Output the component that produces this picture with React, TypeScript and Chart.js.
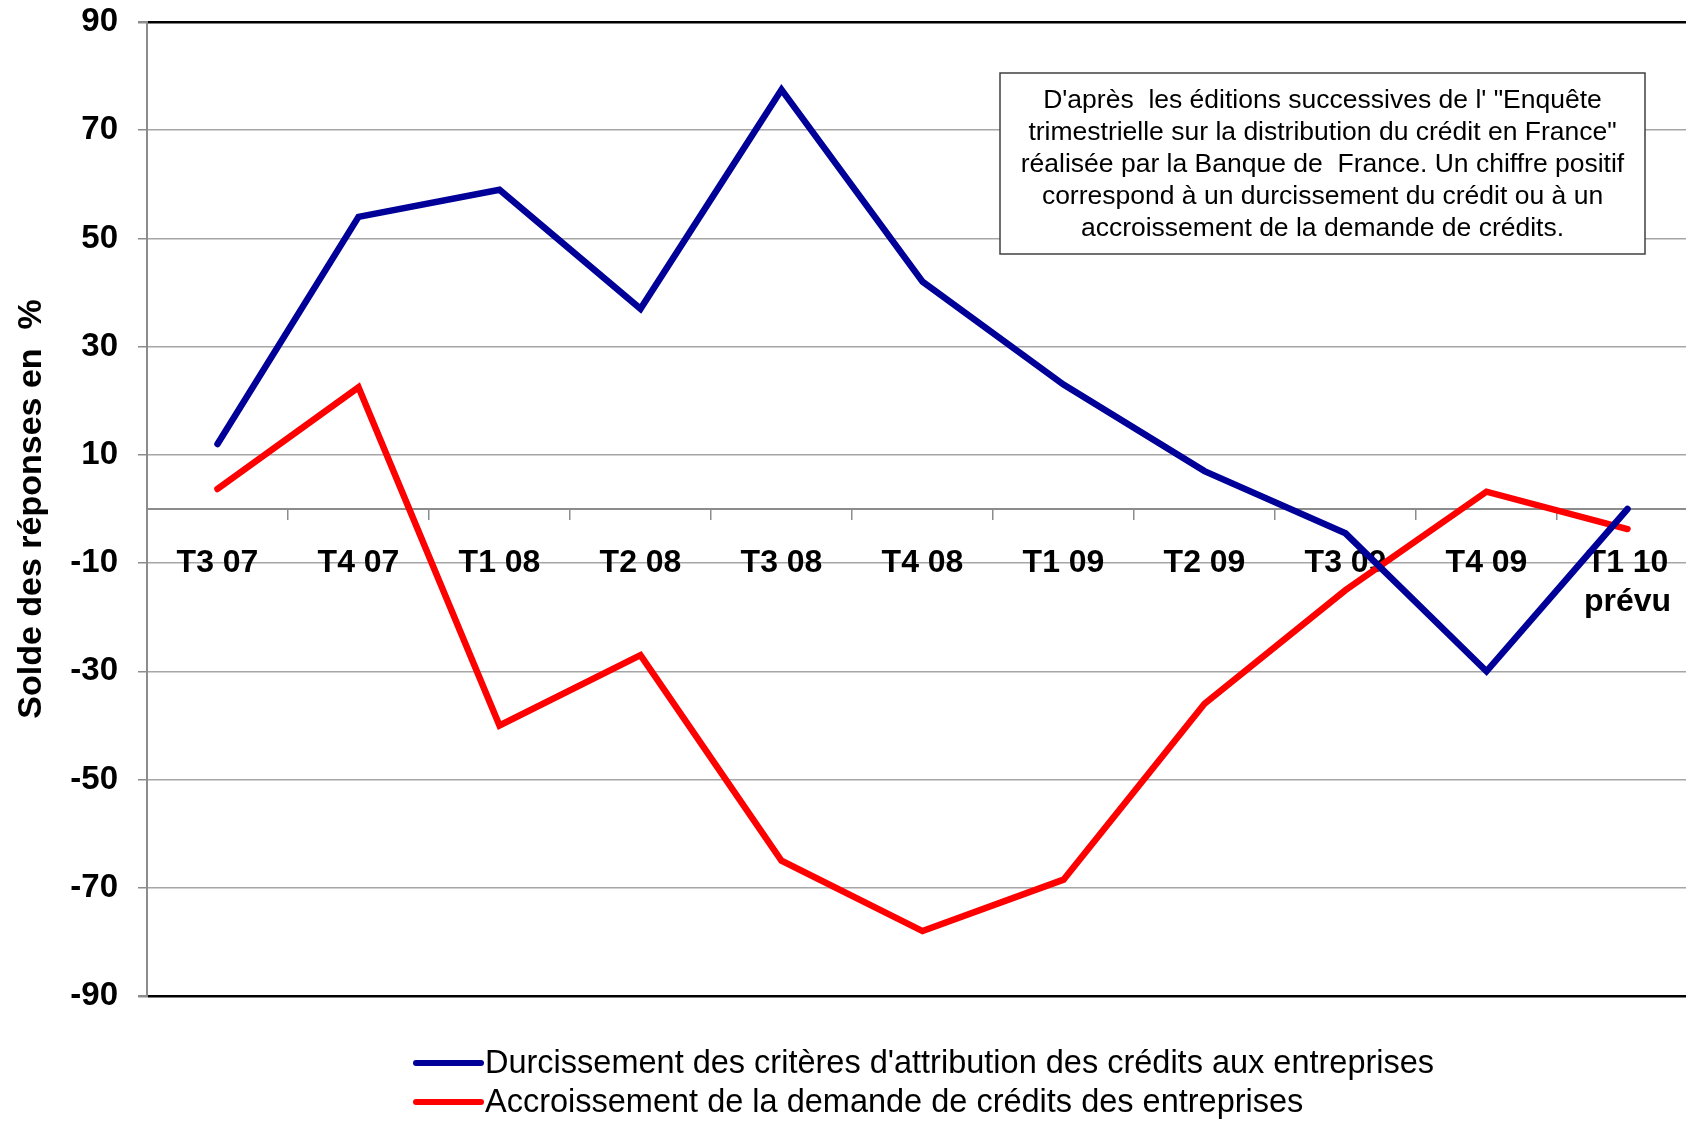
import React, { useEffect, useRef } from 'react';
import { Chart, registerables } from 'chart.js';

Chart.register(...registerables);

const categories: (string | string[])[] = [
  'T3 07', 'T4 07', 'T1 08', 'T2 08', 'T3 08', 'T4 08',
  'T1 09', 'T2 09', 'T3 09', 'T4 09', ['T1 10', 'prévu'],
];

const seriesNames = [
  "Durcissement des critères d'attribution des crédits aux entreprises",
  'Accroissement de la demande de crédits des entreprises',
];

const durcissement = [12, 54, 59, 37, 77.5, 42, 23, 7, -4.5, -30, 0];
const demande = [3.7, 22.5, -40, -27, -65, -78, -68.5, -36, -15, 3.2, -3.7];

const seriesColors = ['#000099', '#FF0000'];

const noteLines = [
  'D\'après  les éditions successives de l\' "Enquête',
  'trimestrielle sur la distribution du crédit en France"',
  'réalisée par la Banque de  France. Un chiffre positif',
  'correspond à un durcissement du crédit ou à un',
  'accroissement de la demande de crédits.',
];

const yTitle = 'Solde des réponses en  %';

const FONT = '"Liberation Sans", Arial, Helvetica, sans-serif';

export default function App() {
  const ref = useRef<HTMLCanvasElement>(null);

  useEffect(() => {
    const canvas = ref.current!;

    const notePlugin = {
      id: 'noteBox',
      afterDatasetsDraw(chart: any) {
        const ctx = chart.ctx as CanvasRenderingContext2D;
        const x0 = 1000, y0 = 73, w = 645, h = 181;
        ctx.save();
        ctx.fillStyle = '#ffffff';
        ctx.fillRect(x0, y0, w, h);
        ctx.strokeStyle = '#404040';
        ctx.lineWidth = 1.5;
        ctx.strokeRect(x0, y0, w, h);
        ctx.fillStyle = '#000000';
        ctx.font = `26.5px ${FONT}`;
        ctx.textAlign = 'center';
        ctx.textBaseline = 'middle';
        noteLines.forEach((line, i) => {
          ctx.fillText(line, x0 + w / 2, 101 + i * 32);
        });
        ctx.restore();
      },
    };

    const legendPlugin = {
      id: 'customLegend',
      afterDraw(chart: any) {
        const ctx = chart.ctx as CanvasRenderingContext2D;
        ctx.save();
        ctx.font = `32.5px ${FONT}`;
        ctx.textAlign = 'left';
        ctx.textBaseline = 'middle';
        seriesNames.forEach((name, i) => {
          const y = 1063 + i * 39;
          ctx.strokeStyle = seriesColors[i];
          ctx.lineWidth = 6;
          ctx.lineCap = 'round';
          ctx.beginPath();
          ctx.moveTo(416, y);
          ctx.lineTo(481, y);
          ctx.stroke();
          ctx.fillStyle = '#000000';
          ctx.fillText(name, 485, y + 1);
        });
        ctx.restore();
      },
    };

    const chart = new Chart(canvas, {
      type: 'line',
      data: {
        labels: categories,
        datasets: [
          {
            label: seriesNames[0],
            data: durcissement,
            borderColor: seriesColors[0],
            backgroundColor: seriesColors[0],
            borderWidth: 6.5,
            pointRadius: 0,
            tension: 0,
            fill: false,
            borderCapStyle: 'round',
          },
          {
            label: seriesNames[1],
            data: demande,
            borderColor: seriesColors[1],
            backgroundColor: seriesColors[1],
            borderWidth: 6.5,
            pointRadius: 0,
            tension: 0,
            fill: false,
            borderCapStyle: 'round',
          },
        ],
      },
      options: {
        animation: false,
        responsive: false,
        devicePixelRatio: 1,
        layout: { padding: { left: 0, top: 22, right: 2, bottom: 126 } },
        plugins: {
          legend: { display: false },
          tooltip: { enabled: false },
        },
        scales: {
          x: {
            type: 'category',
            offset: true,
            position: { y: 0 } as any,
            grid: {
              offset: true,
              drawOnChartArea: false,
              drawTicks: true,
              tickLength: 10,
              color: '#8c8c8c',
              lineWidth: 1.5,
            },
            border: { display: true, color: '#8c8c8c', width: 2 },
            ticks: {
              color: '#000000',
              font: { family: FONT, size: 32, weight: 'bold', lineHeight: 1.22 },
              padding: 25,
              maxRotation: 0,
              autoSkip: false,
            },
          },
          y: {
            min: -90,
            max: 90,
            afterFit: (scale: any) => {
              scale.width = 147;
              scale.paddingTop = 0;
              scale.paddingBottom = 0;
            },
            ticks: {
              stepSize: 20,
              color: '#000000',
              font: { family: FONT, size: 33, weight: 'bold' },
              padding: 20,
            },
            grid: {
              color: (ctx: any) =>
                ctx.tick && (ctx.tick.value === 90 || ctx.tick.value === -90) ? '#000000' : '#a6a6a6',
              lineWidth: (ctx: any) =>
                ctx.tick && (ctx.tick.value === 90 || ctx.tick.value === -90) ? 2.5 : 1.5,
              tickColor: '#8c8c8c',
              tickLength: 9,
            },
            border: { display: true, color: '#8c8c8c', width: 2 },
            title: {
              display: true,
              text: yTitle,
              color: '#000000',
              font: { family: FONT, size: 34, weight: 'bold', lineHeight: 1.2 },
              padding: { top: 11, bottom: 0 },
            },
          },
        },
      },
      plugins: [notePlugin, legendPlugin],
    });

    return () => chart.destroy();
  }, []);

  return (
    <div
      style={{
        position: 'fixed',
        left: 0,
        top: 0,
        width: 1686,
        height: 1122,
        overflow: 'hidden',
        background: '#ffffff',
      }}
    >
      <canvas ref={ref} width={1700} height={1122} style={{ display: 'block', width: 1700, height: 1122 }} />
    </div>
  );
}
